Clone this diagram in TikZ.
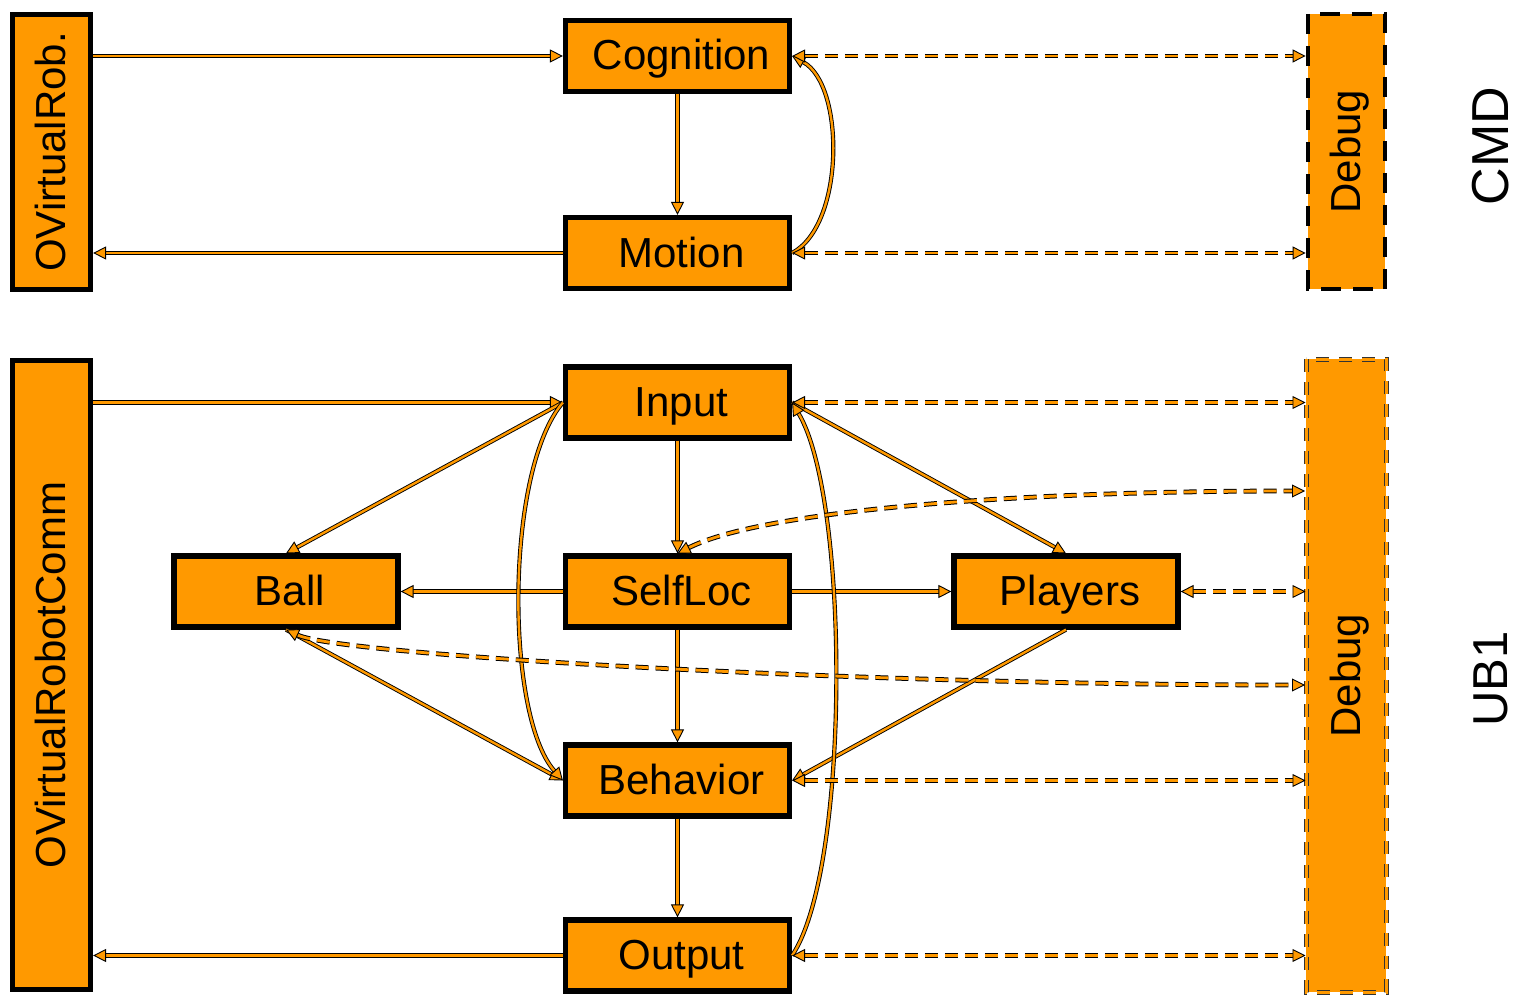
\documentclass[tikz,border=0pt]{standalone}
\usepackage{fontspec}
\setmainfont{Liberation Sans}
\usetikzlibrary{arrows.meta,calc}
\definecolor{org}{RGB}{255,153,0}
\tikzset{
  otri/.tip={Triangle[length=6.5pt,width=6.5pt,fill=org,line width=0.45pt]},
  boxtext/.style={font=\fontsize{21}{21}\selectfont, text height=15pt, text depth=1pt},
  box/.style={draw=black, fill=org, line width=2.6pt, inner sep=0pt, boxtext,
    minimum width=112pt, minimum height=35.5pt, execute at begin node=\hspace*{4pt}},
  vbox/.style={draw=black, fill=org, line width=2.6pt, inner sep=0pt, boxtext, rotate=90},
  dbgA/.style={draw=black, fill=org, line width=2.4pt, dash pattern=on 10pt off 6pt,
    inner sep=0pt, boxtext, rotate=90},
  dbgB/.style={draw=black!80, fill=org, line width=0.5pt, double=org, double distance=1.5pt,
    dash pattern=on 6.5pt off 5pt, inner sep=0pt, boxtext, rotate=90},
  lbl/.style={inner sep=0pt, rotate=90},
  conn/.style={draw=black, line width=0.45pt, double=org, double distance=1.2pt, -{otri}},
  dconn/.style={draw=black, line width=0.5pt, double=org, double distance=1.4pt,
    dash pattern=on 6.5pt off 3.5pt, {otri}-{otri}},
}
\begin{document}
\begin{tikzpicture}[x=0.5pt,y=-0.5pt]
\useasboundingbox (0,0) rectangle (1517,995);
% ---- top group
\node[box] (Cog) at (677.5,56) {Cognition};
\node[box] (Mot) at (677.5,253) {Motion};
\node[vbox, minimum width=137.5pt, minimum height=39pt] (OVR) at (51.5,152) {OVirtualRob.};
\node[dbgA, minimum width=137.5pt, minimum height=38.5pt] (DbgA) at (1346.5,151.5) {Debug};
\node[lbl, font=\fontsize{26}{26}\selectfont] (CMD) at (1491,146) {CMD};
% ---- bottom group
\node[box] (In) at (677.5,402.5) {Input};
\node[box] (Self) at (677.5,591.5) {SelfLoc};
\node[box] (Ball) at (286,591.5) {Ball};
\node[box] (Pl) at (1066,591.5) {Players};
\node[box] (Beh) at (677.5,780.5) {Behavior};
\node[box] (Out) at (677.5,955.5) {Output};
\node[vbox, minimum width=314.5pt, minimum height=39pt] (OVRC) at (51.5,675) {OVirtualRobotComm};
\node[dbgB, minimum width=316.5pt, minimum height=40pt] (DbgB) at (1346,675.5) {Debug};
\node[lbl, font=\fontsize{24.5}{24.5}\selectfont] (UB) at (1491,679) {UB1};
% ---- top connectors
\draw[conn] (OVR.south |- Cog.west) -- (Cog.west);
\draw[conn] (Mot.west) -- (OVR.south |- Mot.west);
\draw[conn] (Cog.south) -- (Mot.north);
\draw[conn] (Mot.east) .. controls (845,225) and (845,85) .. (Cog.east);
\draw[dconn] (Cog.east) -- (DbgA.north |- Cog.east);
\draw[dconn] (Mot.east) -- (DbgA.north |- Mot.east);
% ---- bottom connectors
\draw[conn] (OVRC.south |- In.west) -- (In.west);
\draw[conn] (Out.west) -- (OVRC.south |- Out.west);
\draw[conn] (In.south) -- (Self.north);
\draw[conn] (Self.west) -- (Ball.east);
\draw[conn] (Self.east) -- (Pl.west);
\draw[conn] (Self.south) -- (Beh.north);
\draw[conn] (Beh.south) -- (Out.north);
\draw[conn] (In.west) -- (Ball.north);
\draw[conn] (Ball.south) -- (Beh.west);
\draw[conn] (In.east) -- (Pl.north);
\draw[conn] (Pl.south) -- (Beh.east);
\draw[conn] (In.west) .. controls (505,470) and (505,715) .. (Beh.west);
\draw[conn] (Out.east) .. controls (850,870) and (850,500) .. (In.east);
\draw[dconn] (In.east) -- (DbgB.north |- In.east);
\draw[dconn] (Pl.east) -- (DbgB.north |- Pl.east);
\draw[dconn] (Beh.east) -- (DbgB.north |- Beh.east);
\draw[dconn] (Out.east) -- (DbgB.north |- Out.east);
\coordinate (dS) at (1305,491);
\coordinate (dB) at (1305,685);
\draw[dconn] (Self.north) .. controls (760,512) and (1000,491) .. (dS);
\draw[dconn] (Ball.south) .. controls (340,655) and (850,685) .. (dB);
\end{tikzpicture}
\end{document}
